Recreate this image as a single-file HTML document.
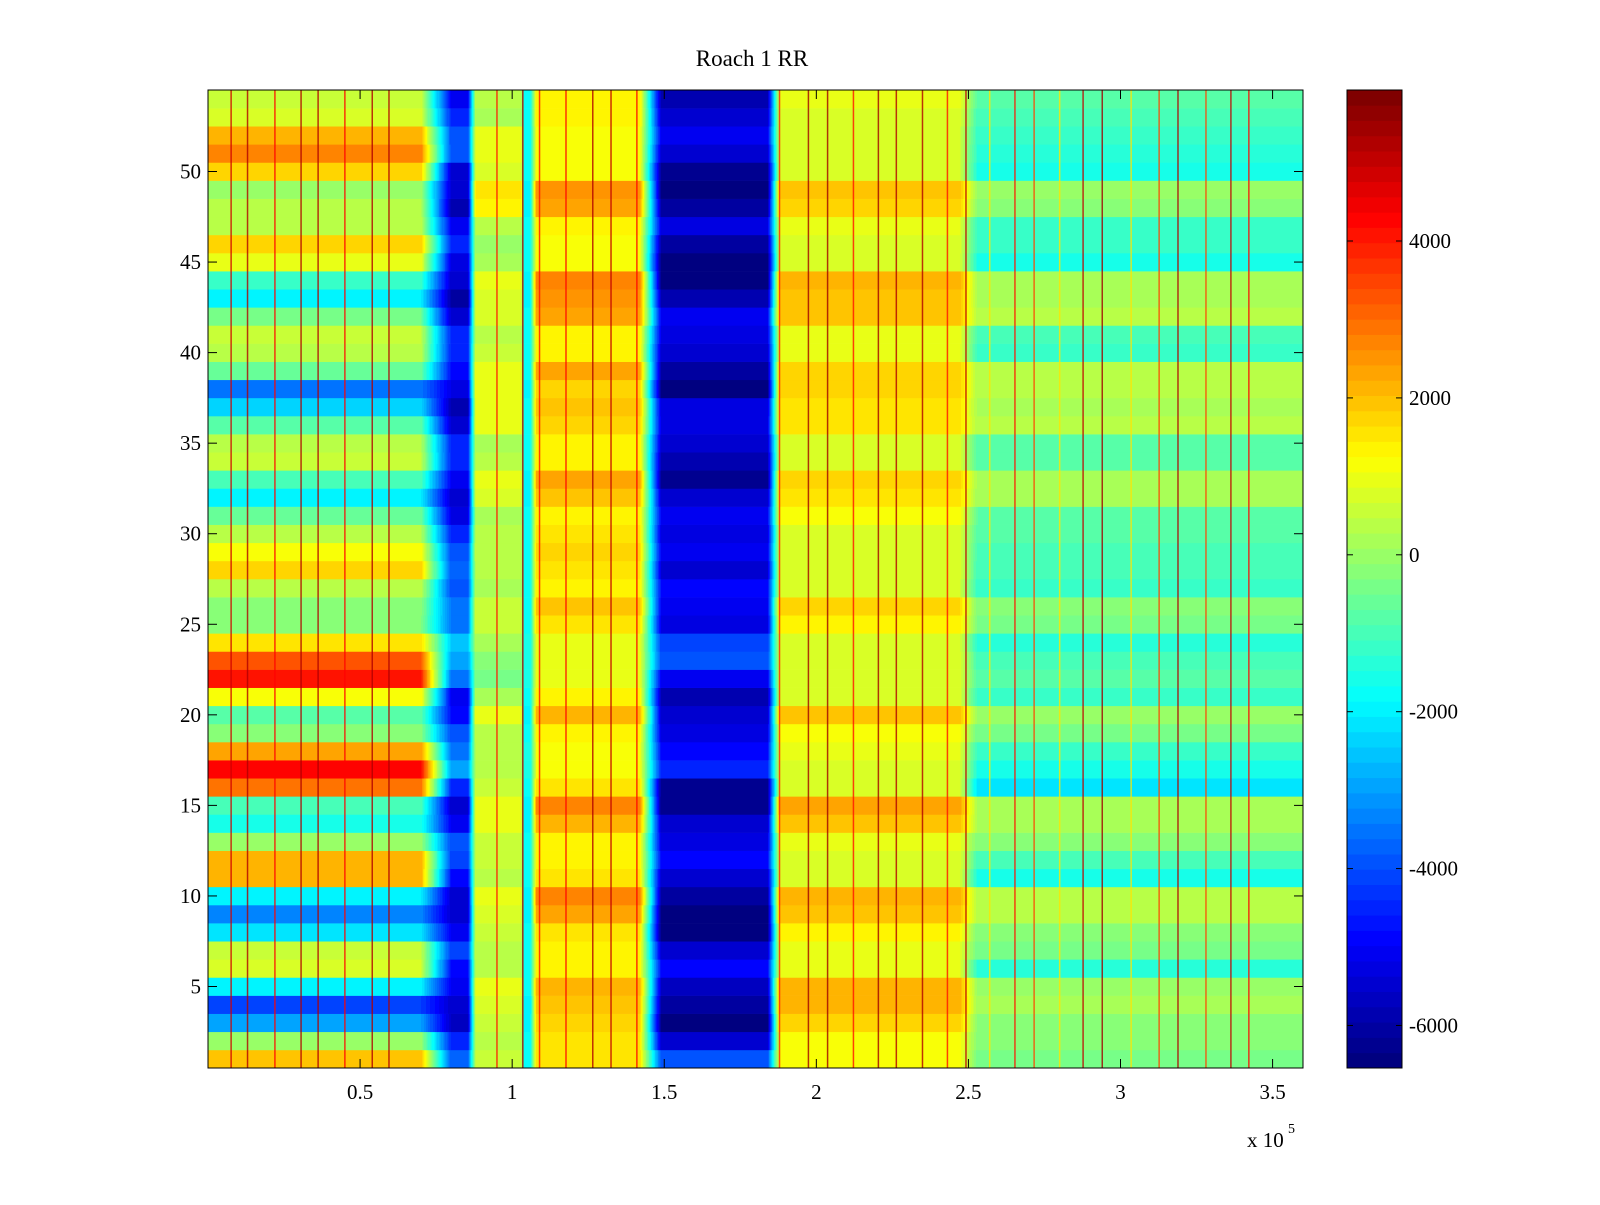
<!DOCTYPE html>
<html>
<head>
<meta charset="utf-8">
<style>
html,body{margin:0;padding:0;background:#fff;}
svg text{font-family:"Liberation Serif",serif;fill:#000;}
</style>
</head>
<body>
<svg id="chart" width="1600" height="1200" viewBox="0 0 1600 1200" xmlns="http://www.w3.org/2000/svg">
<rect x="0" y="0" width="1600" height="1200" fill="#fff"/>
<text x="752" y="66" font-size="23" text-anchor="middle">Roach 1 RR</text>
<g id="cells"></g>
<g id="streaks"></g>
<g id="axes"></g>
<g id="cbar"></g>
</svg>
<script>
// ---- data (values per row, row 1 .. row 54) ----
const rowIndex = Array.from({length:54},(_,i)=>i+1);
// left block 0 - 0.70e5
const leftVals = [2000,0,-3000,-4200,-2000,700,500,-2200,-3300,-2000,2200,2200,0,-1500,-1000,3000,4200,2400,-200,-800,1200,4000,3200,1600,-300,-200,400,
  1800,1200,300,-600,-2000,-1000,500,300,-800,-2300,-3500,-600,400,500,-500,-2000,-1200,1000,1800,400,300,0,1800,2800,2200,800,600];
// dark band ~0.8e5
const bandBVals = [-3800,-4500,-5600,-5500,-5000,-4800,-4200,-5000,-5500,-5500,-4800,-4200,-4000,-5000,-5500,-4500,-3000,-3500,-4000,-4800,-5000,-3500,-3000,-2500,-3500,-3500,-4000,
  -3800,-4000,-4500,-5200,-5500,-5000,-4500,-4500,-5500,-5800,-5200,-4800,-4500,-4500,-5500,-6000,-5500,-5200,-4500,-5000,-5800,-5500,-5500,-4000,-4000,-4500,-5000];
// yellow-green band 0.88 - 1.03e5
const bandC1Vals = [500,300,600,800,900,300,400,500,800,1000,400,500,500,900,1000,600,300,300,400,1000,200,-400,-200,200,600,600,200,
  300,400,300,100,800,900,300,200,900,900,1000,1000,600,300,800,800,1000,200,0,300,1400,1500,800,900,900,200,400];
// narrow cyan stripe ~1.05e5
const stripeVals = [-1800,-1800,-1900,-2000,-1800,-1700,-1700,-1800,-2000,-2000,-1700,-1700,-1700,-1900,-2000,-1700,-1600,-1600,-1700,-1900,-1700,-1600,-1600,-1600,-1700,-1800,-1700,
  -1700,-1700,-1700,-1700,-1900,-1900,-1700,-1700,-1800,-1800,-1900,-1800,-1700,-1700,-1800,-1900,-1900,-1700,-1700,-1700,-1900,-1900,-1800,-1800,-1800,-1700,-1700];
// yellow/orange band 1.08 - 1.42e5
const bandC2Vals = [1600,1500,1700,2000,2200,1300,1300,1500,2300,2800,1500,1300,1300,2200,2800,1600,1100,1100,1300,2200,1300,1000,1000,1000,1600,2000,1400,
  1500,1700,1500,1400,2000,2300,1400,1300,1800,2000,1800,2300,1300,1400,2400,2500,2800,1200,1200,1300,2400,2600,1200,1200,1200,1400,1400];
// dark blue band 1.49 - 1.84e5
const bandDVals = [-4000,-5500,-6400,-6000,-5600,-4800,-5500,-6400,-6400,-6000,-5500,-4800,-5200,-5500,-6300,-6200,-4500,-4800,-5200,-5500,-5800,-5000,-4000,-4200,-5200,-5000,-4800,
  -5400,-5000,-5300,-5000,-5500,-6200,-5800,-5500,-5200,-5300,-6400,-6000,-5500,-5200,-5000,-5800,-6400,-6400,-6000,-5200,-6000,-6400,-6200,-5500,-5000,-5500,-5800];
// orange band 1.88 - 2.47e5
const bandEVals = [1200,1200,1800,2200,2200,900,900,1300,2000,2200,800,800,1000,2000,2400,800,800,900,1200,2000,800,800,800,800,1400,1700,700,
  800,800,800,1200,1600,1800,800,800,1600,1600,1800,1800,1000,1000,2000,2000,2200,800,800,900,1800,2000,700,700,700,800,1000];
// green/cyan region 2.53 - 3.6e5
const bandFVals = [-400,-200,-200,100,0,-1300,-500,-300,300,300,-1500,-1000,-300,200,200,-2200,-1500,-1200,-500,0,-1200,-800,-1000,-1400,-400,-300,-1200,
  -1000,-900,-800,-700,100,200,-800,-800,300,200,300,300,-1200,-1000,300,200,200,-1500,-1200,-1200,-200,0,-1500,-1300,-1200,-1000,-800];
// segment edges along x (units of 1e5)
const segEdges = [0,0.70,0.80,0.855,0.88,1.03,1.04,1.06,1.08,1.42,1.49,1.84,1.88,2.47,2.53,3.6];
// vertical streaks: positions (x 1e5) and values
const streakX = [0.076,0.13,0.22,0.306,0.362,0.45,0.54,0.595,0.95,1.035,1.09,1.177,1.265,1.325,1.41,1.879,1.974,2.037,2.122,2.204,2.263,2.349,2.431,2.492,2.57,2.653,2.716,2.80,2.877,2.94,3.035,3.127,3.189,3.281,3.363,3.422];
const streakV = [4800,5200,4200,5200,5200,4200,5200,5200,4000,5500,4000,4200,5200,5000,4200,3800,5400,5400,4000,5400,5200,5200,4000,5000,1500,4000,3500,1500,5000,5500,1500,3500,5200,3500,5000,4200];
const xTicks = [0.5,1,1.5,2,2.5,3,3.5];
const xTickLabels = ["0.5","1","1.5","2","2.5","3","3.5"];
const yTicks = [5,10,15,20,25,30,35,40,45,50];
const cTicks = [-6000,-4000,-2000,0,2000,4000];
const cLabels = ["-6000","-4000","-2000","0","2000","4000"];

// ---- geometry ----
const PL=208, PR=1303, PT=90, PB=1068;
const X0=0, X1=3.6, Y0=0.5, Y1=54.5;
const CMIN=-6542, CMAX=5925;
const CBL=1347, CBR=1402;
const xs = v => PL + (v-X0)/(X1-X0)*(PR-PL);
const ys = v => PB - (v-Y0)/(Y1-Y0)*(PB-PT);
const cs = v => PB - (v-CMIN)/(CMAX-CMIN)*(PB-PT);
const NS="http://www.w3.org/2000/svg";
function jet(i){
  const t=i/63;
  const c=v=>Math.round(255*Math.max(0,Math.min(1,v)));
  return `rgb(${c(1.5-Math.abs(4*t-3))},${c(1.5-Math.abs(4*t-2))},${c(1.5-Math.abs(4*t-1))})`;
}
function cidx(v){
  let i=Math.floor((v-CMIN)/(CMAX-CMIN)*64);
  return Math.max(0,Math.min(63,i));
}
function mk(tag,attrs,parent){
  const e=document.createElementNS(NS,tag);
  for(const k in attrs) e.setAttribute(k,attrs[k]);
  parent.appendChild(e);
  return e;
}
function rowProfile(r){
  const vals=[leftVals[r],leftVals[r],bandBVals[r],bandBVals[r],bandC1Vals[r],bandC1Vals[r],stripeVals[r],stripeVals[r],bandC2Vals[r],bandC2Vals[r],bandDVals[r],bandDVals[r],bandEVals[r],bandEVals[r],bandFVals[r],bandFVals[r]];
  return function(x){
    for(let k=0;k<segEdges.length-1;k++){
      if(x<=segEdges[k+1]){
        const a=segEdges[k],b=segEdges[k+1];
        const t=b>a?(x-a)/(b-a):0;
        return vals[k]+(vals[k+1]-vals[k])*t;
      }
    }
    return vals[vals.length-1];
  };
}
// ---- cells ----
const cells=document.getElementById('cells');
rowIndex.forEach((rowNum,r)=>{
  const f=rowProfile(r);
  const yTop=ys(rowNum+0.5), yBot=ys(rowNum-0.5);
  let runStart=PL, runIdx=null;
  for(let px=PL;px<=PR;px++){
    const idx = px<PR ? cidx(f(X0+(px+0.5-PL)/(PR-PL)*(X1-X0))) : -1;
    if(idx!==runIdx){
      if(runIdx!==null && runIdx>=0){
        const el=mk('rect',{x:runStart,y:yTop.toFixed(2),width:px-runStart,height:(yBot-yTop+0.3).toFixed(2),fill:jet(runIdx)},cells);
        
        
      }
      runStart=px; runIdx=idx;
    }
  }
});
// ---- streaks ----
const streaks=document.getElementById('streaks');
streakX.forEach((sx,i)=>{
  const el=mk('rect',{x:(xs(sx)-0.75).toFixed(2),y:PT,width:1.5,height:PB-PT,fill:jet(cidx(streakV[i])),'fill-opacity':0.8},streaks);
  
  
});
// ---- axes ----
const axes=document.getElementById('axes');
const frame=mk('rect',{x:PL,y:PT,width:PR-PL,height:PB-PT,fill:'none',stroke:'#000','stroke-width':1},axes);


xTicks.forEach((v,i)=>{
  const x=xs(v);
  const t1=mk('line',{x1:x,x2:x,y1:PB,y2:PB-9,stroke:'#000'},axes);
  
  
  const t2=mk('line',{x1:x,x2:x,y1:PT,y2:PT+9,stroke:'#000'},axes);
  
  
  const lb=mk('text',{x:x,y:1099,'font-size':21,'text-anchor':'middle'},axes);
  lb.textContent=xTickLabels[i];
  
  
});
yTicks.forEach(v=>{
  const y=ys(v);
  const t1=mk('line',{x1:PL,x2:PL+9,y1:y,y2:y,stroke:'#000'},axes);
  
  
  const t2=mk('line',{x1:PR,x2:PR-9,y1:y,y2:y,stroke:'#000'},axes);
  
  
  const lb=mk('text',{x:201,y:y+7,'font-size':21,'text-anchor':'end'},axes);
  lb.textContent=String(v);
  
  
});
const ex=mk('text',{x:1247,y:1147,'font-size':21},axes);
ex.textContent='x 10';


const ex2=mk('text',{x:1288,y:1133,'font-size':14},axes);
ex2.textContent='5';


// ---- colorbar ----
const cbar=document.getElementById('cbar');
for(let i=0;i<64;i++){
  const y0=PB-(i+1)/64*(PB-PT), y1=PB-i/64*(PB-PT);
  const el=mk('rect',{x:CBL,y:y0.toFixed(2),width:CBR-CBL,height:(y1-y0+0.4).toFixed(2),fill:jet(i)},cbar);
  
  
}
const cf=mk('rect',{x:CBL,y:PT,width:CBR-CBL,height:PB-PT,fill:'none',stroke:'#000'},cbar);


cTicks.forEach((v,i)=>{
  const y=cs(v);
  const a=mk('line',{x1:CBL,x2:CBL+6,y1:y,y2:y,stroke:'#000'},cbar);
  
  
  const b=mk('line',{x1:CBR,x2:CBR-6,y1:y,y2:y,stroke:'#000'},cbar);
  
  
  const lb=mk('text',{x:1409,y:y+7,'font-size':21},cbar);
  lb.textContent=cLabels[i];
  
  
});
</script>
</body>
</html>
